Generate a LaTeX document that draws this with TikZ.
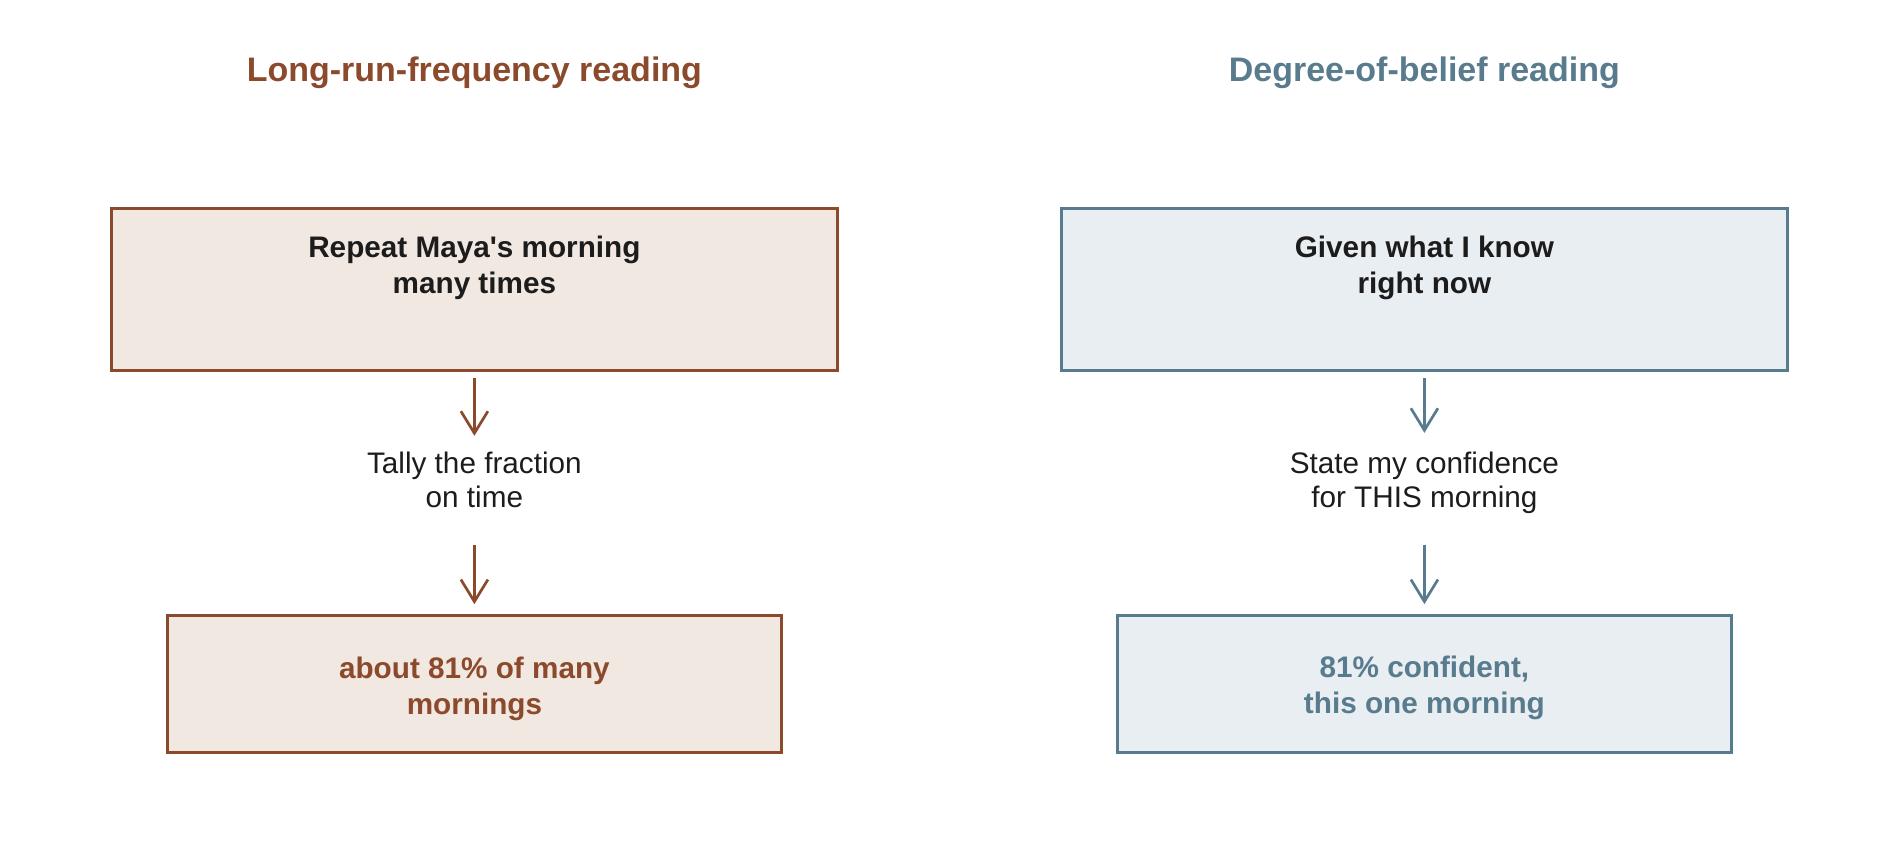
\documentclass[tikz,border=0pt]{standalone}
\usepackage{fontspec}
\setmainfont{Liberation Sans}
\usetikzlibrary{arrows.meta}
\definecolor{brn}{HTML}{8B4A2B}
\definecolor{brnfill}{HTML}{F2E8E2}
\definecolor{blu}{HTML}{587B8E}
\definecolor{blufill}{HTML}{E8EEF1}
\definecolor{ink}{HTML}{1C1C1C}
\tikzset{
  titletext/.style={font=\fontsize{34}{40}\selectfont\bfseries, inner sep=0pt, anchor=center},
  topbox/.style={draw=#1, fill=#1fill, line width=2.7pt, minimum width=725.8pt, minimum height=162.4pt, inner sep=0pt},
  botbox/.style={draw=#1, fill=#1fill, line width=2.7pt, minimum width=614.3pt, minimum height=137pt, inner sep=0pt,
     align=center, text=#1, font=\fontsize{29.7}{36.4}\selectfont\bfseries},
  boxtext/.style={align=center, text=ink, inner sep=0pt, font=\fontsize{29.7}{36.4}\selectfont\bfseries},
  bottext/.style={align=center, text=#1, inner sep=0pt, font=\fontsize{29.7}{36.4}\selectfont\bfseries},
  midtext/.style={align=center, text=ink, inner sep=0pt, font=\fontsize{29.7}{34.2}\selectfont},
  flow/.style={draw=#1, line width=2.7pt, -{Straight Barb[length=22pt,width=27pt,line width=2.7pt]}},
}
\begin{document}
\begin{tikzpicture}[x=1pt,y=-1pt]
\useasboundingbox (0,0) rectangle (1900,850);
% titles
\node[titletext, text=brn] (titleL) at (474.4,73) {Long-run-frequency reading};
\node[titletext, text=blu] (titleR) at (1424.4,73) {Degree-of-belief reading};
% left column
\node[topbox=brn] (topL) at (474.4,289.6) {};
\node[boxtext] (topLtext) at (474.4,268) {Repeat Maya\textquotesingle s morning\\many times};
\node[midtext] (midL) at (474.4,480) {Tally the fraction\\on time};
\node[botbox=brn] (botL) at (474.4,684) {};
\node[bottext=brn] (botLtext) at (474.4,689) {about 81\% of many\\mornings};
\draw[flow=brn, shorten <=6pt, shorten >=16pt] (topL.south) -- (midL.north);
\draw[flow=brn, shorten <=37pt, shorten >=10pt] (midL.south) -- (botL.north);
% right column
\node[topbox=blu] (topR) at (1424.4,289.6) {};
\node[boxtext] (topRtext) at (1424.4,268) {Given what I know\\right now};
\node[midtext] (midR) at (1424.4,483) {State my confidence\\for THIS morning};
\node[botbox=blu] (botR) at (1424.4,684) {};
\node[bottext=blu] (botRtext) at (1424.4,688) {81\% confident,\\this one morning};
\draw[flow=blu, shorten <=6pt, shorten >=19pt] (topR.south) -- (midR.north);
\draw[flow=blu, shorten <=30.4pt, shorten >=10pt] (midR.south) -- (botR.north);
\end{tikzpicture}
\end{document}
